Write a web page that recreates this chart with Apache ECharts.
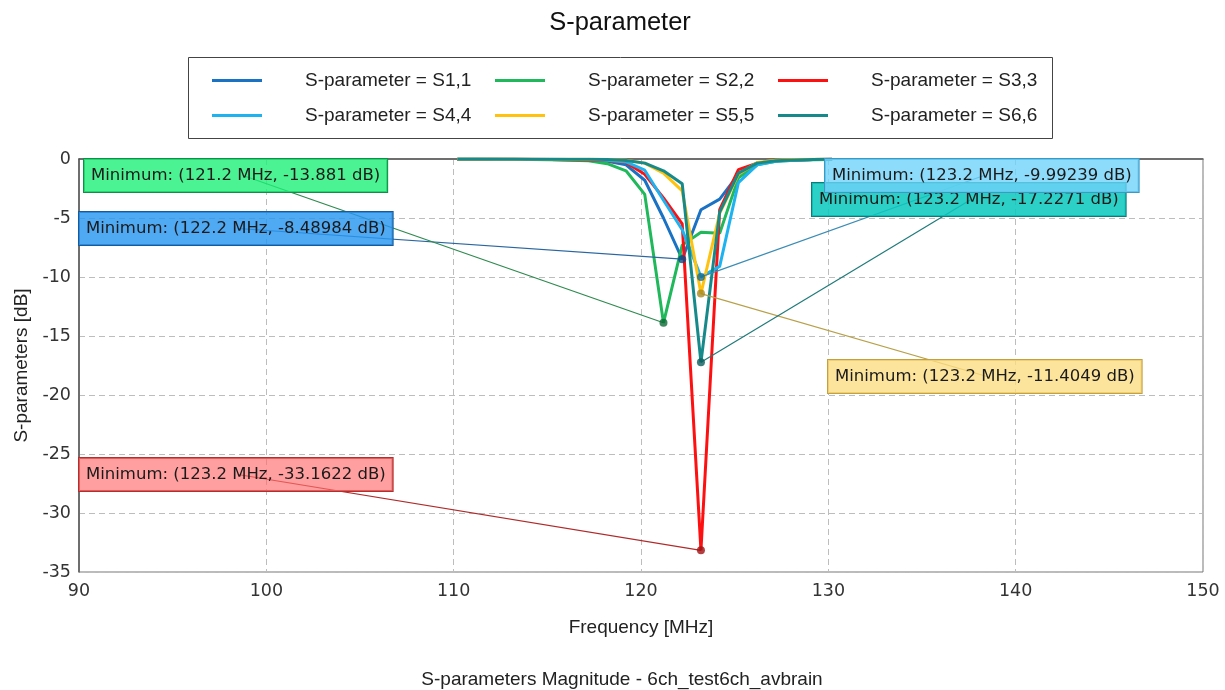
<!DOCTYPE html>
<html>
<head>
<meta charset="utf-8">
<script src="https://cdn.jsdelivr.net/npm/echarts@6/dist/echarts.min.js"></script>
<style>
  html, body { margin: 0; padding: 0; background: #ffffff; }
  #chart { width: 1225px; height: 690px; }
</style>
</head>
<body>
<div id="chart"></div>
<script>
// Frequency sweep [MHz]
const freqs = [110.2, 111.2, 112.2, 113.2, 114.2, 115.2, 116.2, 117.2, 118.2, 119.2,
               120.2, 121.2, 122.2, 123.2, 124.2, 125.2, 126.2, 127.2, 128.2, 129.2, 130.2];

// Reflection magnitude per port [dB]
const s11 = [-0.02, -0.02, -0.03, -0.03, -0.04, -0.05, -0.07, -0.1, -0.2, -0.5,
             -1.8, -5.0, -8.48984, -4.3, -3.4, -1.3, -0.35, -0.12, -0.06, -0.04, -0.03];
const s22 = [-0.02, -0.03, -0.03, -0.04, -0.05, -0.07, -0.1, -0.15, -0.4, -1.0,
             -3.0, -13.881, -7.3, -6.2, -6.3, -1.6, -0.5, -0.2, -0.1, -0.06, -0.04];
const s33 = [-0.02, -0.02, -0.02, -0.03, -0.03, -0.04, -0.06, -0.08, -0.12, -0.3,
             -1.3, -3.3, -5.5, -33.1622, -4.3, -0.9, -0.35, -0.15, -0.08, -0.05, -0.03];
const s44 = [-0.01, -0.01, -0.02, -0.02, -0.03, -0.03, -0.04, -0.05, -0.1, -0.25,
             -0.95, -3.5, -6.0, -9.99239, -9.1, -2.0, -0.5, -0.2, -0.1, -0.05, -0.03];
const s55 = [-0.01, -0.01, -0.01, -0.01, -0.02, -0.02, -0.02, -0.03, -0.05, -0.1,
             -0.35, -1.2, -2.7, -11.4049, -4.6, -1.3, -0.3, -0.1, -0.05, -0.03, -0.02];
const s66 = [-0.01, -0.01, -0.01, -0.01, -0.02, -0.02, -0.02, -0.03, -0.05, -0.12,
             -0.35, -1.0, -2.1, -17.2271, -4.5, -1.2, -0.35, -0.15, -0.08, -0.05, -0.03];

const seriesNames = ['S-parameter = S1,1', 'S-parameter = S2,2', 'S-parameter = S3,3',
                     'S-parameter = S4,4', 'S-parameter = S5,5', 'S-parameter = S6,6'];
const seriesValues = [s11, s22, s33, s44, s55, s66];

// Minimum of each trace
const minFreq = [122.2, 121.2, 123.2, 123.2, 123.2, 123.2];
const minValue = [-8.48984, -13.881, -33.1622, -9.99239, -11.4049, -17.2271];

// Axis ticks
const xTicks = [90, 100, 110, 120, 130, 140, 150];
const yTicks = [0, -5, -10, -15, -20, -25, -30, -35];

// ---- styling ----
const lineColors = ['#1a72c4', '#1fb85a', '#ff1010', '#1cb3f0', '#ffc20e', '#168a8a'];
const markerColors = ['#0d4a86', '#0c6a34', '#a01010', '#1a6e8c', '#a88a20', '#0c5c5c'];
const leaderColors = ['#2a66a0', '#2d8a4e', '#b02a2a', '#3a8cb4', '#b8a048', '#1f7a7a'];
const boxFill = ['rgba(40,150,240,0.82)', 'rgba(30,240,120,0.8)', 'rgba(255,110,110,0.66)',
                 'rgba(110,210,250,0.78)', 'rgba(253,220,130,0.78)', 'rgba(10,200,190,0.86)'];
const boxStroke = ['#1c5a96', '#1a8a4a', '#b03030', '#3a9ac4', '#c4a040', '#107a76'];
// Annotation box top-left corners (px)
const boxPos = [[79, 212], [84, 159], [79, 458], [825, 159], [828, 360], [812, 183]];
// Draw order of annotation boxes (later = on top)
const boxOrder = [1, 0, 2, 4, 5, 3];
// Legend layout: [icon left, row centre]
const legendPos = [[212, 80], [495, 80], [778, 80], [212, 115], [495, 115], [778, 115]];

const LABEL_FONT = 'DejaVu Sans';
const TEXT_FONT = 'Liberation Sans';

const chart = echarts.init(document.getElementById('chart'), null, { renderer: 'canvas' });

const series = seriesNames.map((name, i) => ({
  name: name,
  type: 'line',
  data: freqs.map((f, k) => [f, seriesValues[i][k]]),
  showSymbol: false,
  symbol: 'none',
  lineStyle: { width: 3, color: lineColors[i] },
  itemStyle: { color: lineColors[i] },
  z: 2,
  animation: false
}));

series.push({
  name: 'minima',
  type: 'scatter',
  data: minFreq.map((f, i) => ({ value: [f, minValue[i]], itemStyle: { color: markerColors[i] } })),
  symbolSize: 8,
  z: 5,
  animation: false
});

const legends = seriesNames.map((name, i) => ({
  data: [name],
  left: legendPos[i][0] - 5,
  top: legendPos[i][1] - 5 - 9,
  icon: 'rect',
  itemWidth: 50,
  itemHeight: 3,
  padding: 5,
  selectedMode: false,
  textStyle: { fontFamily: TEXT_FONT, fontSize: 19, color: '#222', padding: [0, 0, 0, 38], lineHeight: 18 }
}));

chart.setOption({
  animation: false,
  backgroundColor: '#ffffff',
  title: [
    { text: 'S-parameter', left: 615, top: 5, textAlign: 'center',
      textStyle: { fontFamily: TEXT_FONT, fontSize: 25.5, fontWeight: 'normal', color: '#111' } },
    { text: 'S-parameters Magnitude - 6ch_test6ch_avbrain', left: 617, top: 665, textAlign: 'center',
      textStyle: { fontFamily: TEXT_FONT, fontSize: 19, fontWeight: 'normal', color: '#222' } }
  ],
  legend: legends,
  grid: { left: 79, right: 22, top: 159, bottom: 118, show: true, borderColor: '#777', borderWidth: 1, containLabel: false },
  xAxis: {
    type: 'value', min: xTicks[0], max: xTicks[xTicks.length - 1], interval: 10,
    name: 'Frequency [MHz]', nameLocation: 'middle', nameGap: 46,
    nameTextStyle: { fontFamily: TEXT_FONT, fontSize: 19, color: '#222' },
    axisLine: { show: true, lineStyle: { color: '#555', width: 1.5 } },
    axisTick: { show: false },
    axisLabel: { fontFamily: LABEL_FONT, fontSize: 17.5, color: '#333', margin: 10 },
    splitLine: { show: true, lineStyle: { color: '#bdbdbd', type: [6, 4], width: 1 } }
  },
  yAxis: {
    type: 'value', min: yTicks[yTicks.length - 1], max: yTicks[0], interval: 5,
    name: 'S-parameters [dB]', nameLocation: 'middle', nameGap: 48,
    nameTextStyle: { fontFamily: TEXT_FONT, fontSize: 19, color: '#222' },
    axisLine: { show: true, lineStyle: { color: '#555', width: 1.5 } },
    axisTick: { show: false },
    axisLabel: { fontFamily: LABEL_FONT, fontSize: 17.5, color: '#333', margin: 8 },
    splitLine: { show: true, lineStyle: { color: '#bdbdbd', type: [6, 4], width: 1 } }
  },
  series: series
});

// Leader lines from each minimum to the centre of its annotation box, then the boxes
const BOX_W = 318, BOX_H = 33;
const elements = [];
minFreq.forEach((f, i) => {
  const p = chart.convertToPixel({ gridIndex: 0 }, [f, minValue[i]]);
  const cx = boxPos[i][0] + BOX_W / 2, cy = boxPos[i][1] + BOX_H / 2;
  elements.push({
    type: 'line', silent: true, z: 3,
    shape: { x1: p[0], y1: p[1], x2: cx, y2: cy },
    style: { stroke: leaderColors[i], lineWidth: 1.2 }
  });
});
boxOrder.forEach((i, order) => {
  elements.push({
    type: 'text', silent: true, z: 10 + order,
    x: boxPos[i][0], y: boxPos[i][1],
    style: {
      text: 'Minimum: (' + minFreq[i] + ' MHz, ' + minValue[i] + ' dB)',
      font: '16.5px "' + LABEL_FONT + '"',
      fill: '#1a1a1a',
      backgroundColor: boxFill[i],
      borderColor: boxStroke[i],
      borderWidth: 1,
      padding: [7, 7, 7, 7],
      lineHeight: 19,
      verticalAlign: 'top',
      align: 'left'
    }
  });
});
elements.push({
  type: 'rect', silent: true, z: 1,
  shape: { x: 188.5, y: 57.5, width: 864, height: 81 },
  style: { fill: 'none', stroke: '#444', lineWidth: 1 }
});
chart.setOption({ graphic: elements });
</script>
</body>
</html>
